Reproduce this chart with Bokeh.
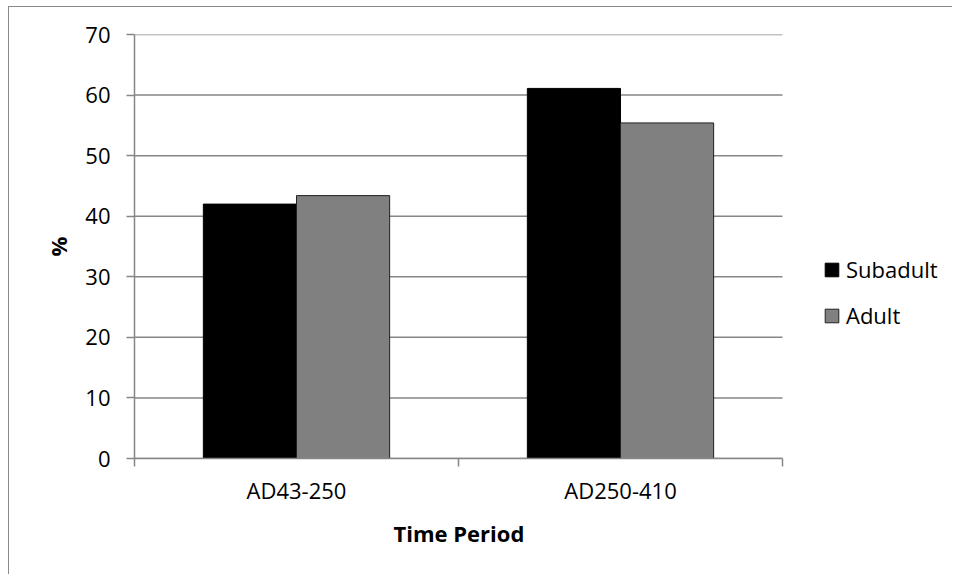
from bokeh.plotting import figure
from bokeh.models import Range1d, FixedTicker, Legend, LegendItem, Title
from bokeh.embed import file_html
from bokeh.resources import INLINE

# Data
categories = ["AD43-250", "AD250-410"]
series_names = ["Subadult", "Adult"]
subadult = [42.0, 61.1]
adult = [43.4, 55.4]
y_ticks = [0, 10, 20, 30, 40, 50, 60, 70]
x_title = "Time Period"
y_title = "%"

FONT = "Open Sans"
GRID = "#868686"
BAR_W = 0.2875
N = len(categories)

# frame: categories occupy [0, N]; the extra room on the right holds the legend
p = figure(width=944, height=568, output_backend="svg", toolbar_location=None,
           x_range=Range1d(0, N + 0.5), y_range=Range1d(0, 70),
           min_border_left=125, min_border_right=9, min_border_top=27,
           min_border_bottom=117)
p.styles = {"border-left": "1.5px solid #8a8a8a", "border-top": "1.5px solid #8a8a8a",
            "margin-left": "8px", "margin-top": "6px"}
p.outline_line_color = None
p.background_fill_color = "white"
p.border_fill_color = "white"

# horizontal gridlines limited to the category area
p.segment(x0=[0] * len(y_ticks), x1=[N] * len(y_ticks), y0=y_ticks, y1=y_ticks,
          line_color=GRID, line_width=1.5)

idx = list(range(N))
x_sub = [i + 0.5 - BAR_W / 2 for i in idx]
x_ad = [i + 0.5 + BAR_W / 2 for i in idx]

r1 = p.vbar(x=x_sub, top=subadult, width=BAR_W, bottom=0,
            fill_color="black", line_color="black", line_width=1)
r2 = p.vbar(x=x_ad, top=adult, width=BAR_W, bottom=0,
            fill_color="#808080", line_color="#202020", line_width=1)

p.xgrid.grid_line_color = None
p.ygrid.grid_line_color = None

# Y axis
p.yaxis.ticker = FixedTicker(ticks=y_ticks)
p.yaxis.axis_line_color = GRID
p.yaxis.axis_line_width = 1.5
p.yaxis.major_tick_line_color = GRID
p.yaxis.major_tick_line_width = 1.5
p.yaxis.major_tick_out = 8
p.yaxis.major_tick_in = 0
p.yaxis.minor_tick_line_color = None
p.yaxis.major_label_standoff = 16
p.yaxis.major_label_text_font = FONT
p.yaxis.major_label_text_font_size = "22px"
p.yaxis.major_label_text_color = "black"
p.yaxis.axis_label = y_title
p.yaxis.axis_label_text_font = FONT
p.yaxis.axis_label_text_font_size = "22px"
p.yaxis.axis_label_text_font_style = "bold"
p.yaxis.axis_label_text_color = "black"
p.yaxis.axis_label_standoff = 9

# X axis
p.xaxis.bounds = (0, N)
p.xaxis.ticker = FixedTicker(ticks=[i + 0.5 for i in idx], minor_ticks=list(range(N + 1)))
p.xaxis.major_label_overrides = {i + 0.5: c for i, c in zip(idx, categories)}
p.xaxis.axis_line_color = GRID
p.xaxis.axis_line_width = 1.5
p.xaxis.major_tick_line_color = None
p.xaxis.major_tick_out = 0
p.xaxis.major_tick_in = 0
p.xaxis.minor_tick_line_color = GRID
p.xaxis.minor_tick_line_width = 1.5
p.xaxis.minor_tick_out = 8
p.xaxis.minor_tick_in = 0
p.xaxis.major_label_standoff = 8
p.xaxis.major_label_text_font = FONT
p.xaxis.major_label_text_font_size = "22px"
p.xaxis.major_label_text_color = "black"

# x-axis title, centred under the category area (not the whole frame)
xt = Title(text=x_title, align="left", offset=259, standoff=16,
           text_font=FONT, text_font_size="22px", text_font_style="bold",
           text_color="black")
p.add_layout(xt, "below")

legend = Legend(items=[LegendItem(label=series_names[0], renderers=[r1]),
                       LegendItem(label=series_names[1], renderers=[r2])],
                location=(689, 128), orientation="vertical")
legend.padding = 0
legend.margin = 0
legend.border_line_color = None
legend.background_fill_alpha = 0
legend.glyph_width = 17
legend.glyph_height = 17
legend.label_height = 17
legend.label_standoff = 6
legend.spacing = 16
legend.label_text_font = FONT
legend.label_text_font_size = "22px"
legend.label_text_color = "black"
p.add_layout(legend, "center")

open("out.html", "w").write(file_html(p, INLINE))
